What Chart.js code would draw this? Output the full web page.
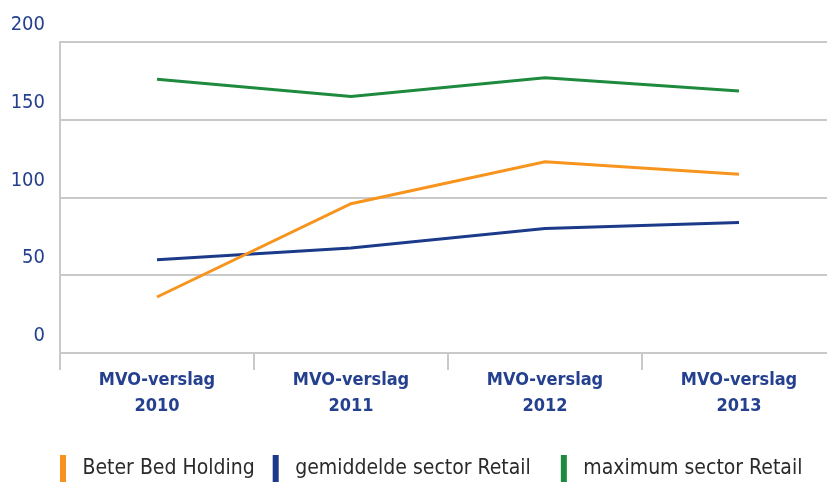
<!DOCTYPE html>
<html>
<head>
<meta charset="utf-8">
<script src="https://cdn.jsdelivr.net/npm/chart.js@4"></script>
<style>
  html, body { margin: 0; padding: 0; background: #fff; overflow: hidden; }
  #wrap { width: 827px; height: 484px; overflow: hidden; }
  #box { width: 836px; height: 492px; }
</style>
</head>
<body>
<div id="wrap"><div id="box"><canvas id="chart"></canvas></div></div>
<script>
// ── Data ──────────────────────────────────────────────────────────────────────
const years = ['2010', '2011', '2012', '2013'];
const categoryLabels = years.map(y => ['MVO-verslag', y]);

const beterBed   = [36, 96, 123, 115];
const gemiddelde = [60, 67.5, 80, 84];
const maximum    = [176, 165, 177, 168.5];

const seriesNames = ['Beter Bed Holding', 'gemiddelde sector Retail', 'maximum sector Retail'];
const legendGaps  = ['   ', '     ', ''];  // trailing spaces between legend items

const COLORS = {
  orange: '#f7941d',
  navy:   '#1b3a8a',
  green:  '#1e8a3e',
  grid:   '#c9c9c9',
  label:  '#24408e',
};

const FONT = "'DejaVu Sans Condensed', 'DejaVu Sans', sans-serif";

function line(label, data, color) {
  return {
    label, data,
    borderColor: color,
    backgroundColor: color,
    borderWidth: 3,
    pointRadius: 0,
    tension: 0,
    fill: false,
  };
}

new Chart(document.getElementById('chart'), {
  type: 'line',
  data: {
    labels: categoryLabels,
    datasets: [
      line(seriesNames[0], beterBed, COLORS.orange),
      line(seriesNames[1], gemiddelde, COLORS.navy),
      line(seriesNames[2], maximum, COLORS.green),
    ]
  },
  options: {
    responsive: true,
    maintainAspectRatio: false,
    animation: false,
    layout: { padding: { top: 42, left: 0, right: 0, bottom: 0 } },
    plugins: {
      tooltip: { enabled: false },
      legend: {
        position: 'bottom',
        align: 'start',
        fullSize: false,
        labels: {
          boxWidth: 6,
          boxHeight: 27,
          padding: 0,
          color: '#2a2a2a',
          font: { family: FONT, size: 21 },
          generateLabels: chart => Chart.defaults.plugins.legend.labels.generateLabels(chart)
            .map((item, i) => ({ ...item, text: ' ' + item.text + legendGaps[i], lineWidth: 0 })),
        }
      }
    },
    scales: {
      x: {
        offset: true,
        grid: {
          offset: true,
          drawOnChartArea: false,
          drawTicks: true,
          tickLength: 17,
          color: COLORS.grid,
          lineWidth: 2,
        },
        border: { color: COLORS.grid, width: 2 },
        ticks: {
          color: COLORS.label,
          font: { family: FONT, size: 18, weight: 'bold', lineHeight: 1.45 },
          padding: -3,
          maxRotation: 0,
        },
        afterFit: s => { s.height = 102; },
      },
      y: {
        min: 0,
        max: 200,
        ticks: {
          stepSize: 50,
          color: COLORS.label,
          font: { family: FONT, size: 20 },
          padding: 15,
          labelOffset: -17,
        },
        grid: { color: COLORS.grid, lineWidth: 2, drawTicks: false },
        border: { color: COLORS.grid, width: 2 },
        afterFit: s => { s.width = 60; },
      }
    }
  }
});
</script>
</body>
</html>
